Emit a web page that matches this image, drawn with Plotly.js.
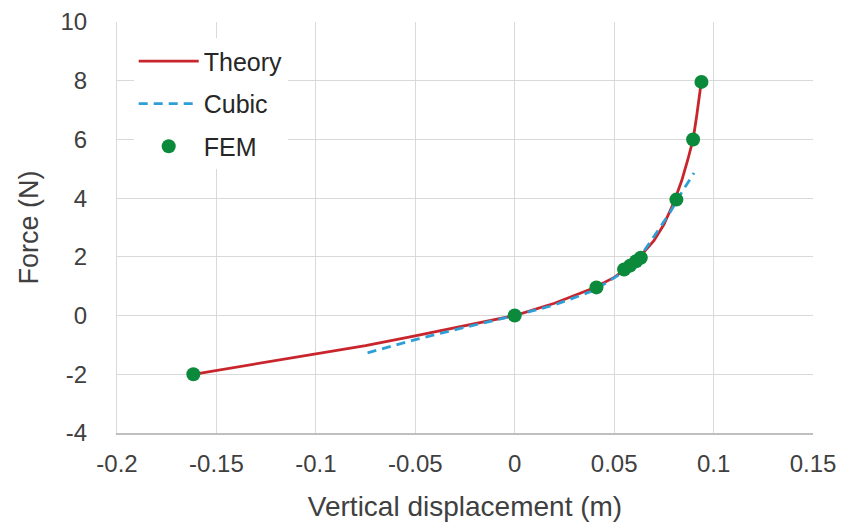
<!DOCTYPE html>
<html>
<head>
<meta charset="utf-8">
<script src="https://cdn.plot.ly/plotly-3.0.1.min.js"></script>
<style>html,body{margin:0;padding:0;background:#fff;}#chart{width:848px;height:527px;}</style>
</head>
<body>
<div id="chart"></div>
<script>
// Theory curve
const theoryX = [-0.1616, -0.13, -0.101, -0.075, -0.0507, -0.025, 0, 0.02, 0.04, 0.05, 0.06, 0.07, 0.075, 0.08, 0.084, 0.087, 0.0897, 0.0915, 0.093, 0.0939];
const theoryY = [-2.0, -1.65, -1.33, -1.02, -0.70, -0.35, 0, 0.42, 0.95, 1.3, 1.78, 2.55, 3.1, 3.85, 4.6, 5.3, 6.0, 6.8, 7.5, 8.0];
// Cubic fit
const cubicX = [-0.074, -0.05, -0.025, 0, 0.02, 0.04, 0.055, 0.065, 0.0718, 0.078, 0.084, 0.0902];
const cubicY = [-1.27, -0.82, -0.40, 0, 0.36, 0.86, 1.5, 2.2, 2.87, 3.5, 4.2, 4.86];
// FEM points
const femX = [-0.1616, 0, 0.0411, 0.055, 0.058, 0.061, 0.0634, 0.0813, 0.0897, 0.0939];
const femY = [-2.0, 0, 0.96, 1.57, 1.7, 1.85, 1.97, 3.95, 6.0, 7.96];
// Axes
const xTicks = [-0.2, -0.15, -0.1, -0.05, 0, 0.05, 0.1, 0.15];
const xTickText = ['-0.2', '-0.15', '-0.1', '-0.05', '0', '0.05', '0.1', '0.15'];
const yTicks = [-4, -2, 0, 2, 4, 6, 8, 10];
const yTickText = ['-4', '-2', '0', '2', '4', '6', '8', '10'];

const font = 'Liberation Sans, Arial, sans-serif';
const traces = [
  {x: theoryX, y: theoryY, mode: 'lines', name: 'Theory', legendgroup: 'a',
   line: {color: '#c8252c', width: 2.8}},
  {x: cubicX, y: cubicY, mode: 'lines', name: 'Cubic', legendgroup: 'b',
   line: {color: '#2e9fd6', width: 2.8, dash: '9px,6px'}},
  {x: femX, y: femY, mode: 'markers', name: 'FEM', legendgroup: 'c',
   marker: {color: '#0b8a3b', size: 14}}
];
const layout = {
  width: 848, height: 527,
  margin: {l: 117, r: 35, t: 22, b: 94},
  paper_bgcolor: '#fff', plot_bgcolor: '#fff',
  font: {family: font, size: 24, color: '#404040'},
  showlegend: true,
  legend: {x: 0.024, y: 0.96, xanchor: 'left', yanchor: 'top', bgcolor: '#ffffff',
           itemwidth: 60,
           font: {family: font, size: 25, color: '#262626'}, traceorder: 'grouped', tracegroupgap: 7},
  xaxis: {range: [-0.2, 0.15], tickvals: xTicks, ticktext: xTickText, showgrid: true, gridcolor: '#d9d9d9', gridwidth: 1.2,
          zeroline: false, showline: true, linecolor: '#bfbfbf', linewidth: 1.5, mirror: false, ticks: '',
          ticklabelstandoff: 9,
          title: {text: 'Vertical displacement (m)', font: {family: font, size: 28, color: '#404040'}, standoff: 20}},
  yaxis: {range: [-4, 10], tickvals: yTicks, ticktext: yTickText, showgrid: true, gridcolor: '#d9d9d9', gridwidth: 1.2,
          zeroline: false, showline: true, linecolor: '#d9d9d9', ticks: '',
          ticklabelstandoff: 24,
          title: {text: 'Force (N)', font: {family: font, size: 27, color: '#404040'}, standoff: 14}}
};
Plotly.newPlot('chart', traces, layout, {displayModeBar: false, staticPlot: true});
</script>
</body>
</html>
